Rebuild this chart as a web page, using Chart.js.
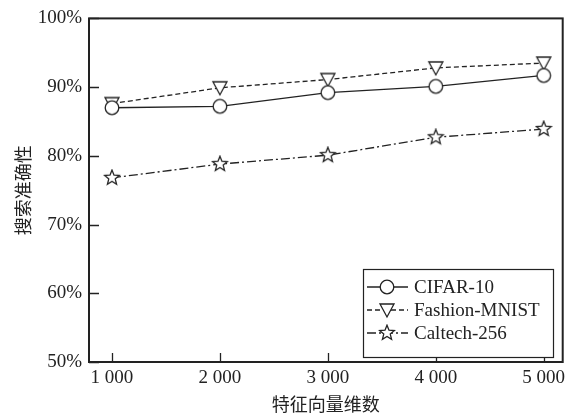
<!DOCTYPE html>
<html lang="zh">

<head>
  <meta charset="UTF-8">
  <title>搜索准确性 - 特征向量维数</title>
  <script src="https://cdn.jsdelivr.net/npm/chart.js"></script>
  <style>
    html, body { margin: 0; padding: 0; background: #fff; }
    #wrap { width: 571px; height: 417px; position: relative; }
  </style>
</head>

<body>
  <div id="wrap"><canvas id="acc-chart"></canvas></div>

  <script>
    // feature vector dimensions on the x axis
    const dims = [1000, 2000, 3000, 4000, 5000];
    const yTicks = [50, 60, 70, 80, 90, 100];

    // search accuracy (%) per dataset
    const cifar10 = [87.0, 87.2, 89.2, 90.1, 91.7];
    const fashionMnist = [87.6, 89.9, 91.1, 92.8, 93.5];
    const caltech256 = [76.8, 78.8, 80.1, 82.7, 83.9];

    const INK = '#222';
    const SERIF = '"Liberation Serif", "Times New Roman", serif';
    const CJK = '"Noto Sans CJK SC", sans-serif';

    // hollow marker images, shared by the points and the legend
    function makeMarker(draw) {
      const c = document.createElement('canvas');
      c.width = 18; c.height = 18;
      const g = c.getContext('2d');
      g.translate(9, 9);
      g.lineWidth = 1.3;
      g.strokeStyle = INK;
      g.fillStyle = '#fff';
      g.beginPath();
      draw(g);
      g.closePath();
      g.fill();
      g.stroke();
      return c;
    }
    const circleMark = makeMarker(g => g.arc(0, 0, 6.8, 0, Math.PI * 2));
    const triMark = makeMarker(g => {
      g.moveTo(-7, -6); g.lineTo(7, -6); g.lineTo(0, 7);
    });
    const starMark = makeMarker(g => {
      for (let i = 0; i < 10; i++) {
        const r = i % 2 === 0 ? 7.8 : 3.4;
        const a = -Math.PI / 2 + i * Math.PI / 5;
        const px = r * Math.cos(a), py = r * Math.sin(a);
        if (i === 0) g.moveTo(px, py); else g.lineTo(px, py);
      }
    });

    function toPoints(values) {
      return values.map((v, i) => ({ x: dims[i], y: v }));
    }

    function series(label, values, dash, marker) {
      return {
        label: label,
        data: toPoints(values),
        borderColor: INK,
        borderWidth: 1.3,
        borderDash: dash,
        pointStyle: marker,
        pointRadius: 7,
        pointHoverRadius: 7,
        fill: false,
        tension: 0
      };
    }

    // frame + inward ticks
    const framePlugin = {
      id: 'frame',
      afterDatasetsDraw(chart) {
        const { ctx, chartArea: a, scales } = chart;
        ctx.save();
        ctx.strokeStyle = INK;
        ctx.lineWidth = 1.3;
        ctx.beginPath();
        scales.x.ticks.forEach(t => {
          const px = Math.round(scales.x.getPixelForValue(t.value)) + 0.5;
          ctx.moveTo(px, a.bottom);
          ctx.lineTo(px, a.bottom - 9);
        });
        scales.y.ticks.forEach(t => {
          const py = Math.round(scales.y.getPixelForValue(t.value)) + 0.5;
          ctx.moveTo(a.left, py);
          ctx.lineTo(a.left + 10, py);
        });
        ctx.stroke();
        ctx.lineWidth = 2;
        ctx.strokeRect(a.left, a.top, a.right - a.left, a.bottom - a.top);
        ctx.restore();
      }
    };

    // boxed legend with line sample and marker per series
    const legendPlugin = {
      id: 'boxLegend',
      afterDraw(chart) {
        const { ctx } = chart;
        const boxX = 363, boxY = 269, boxW = 190, boxH = 88;
        ctx.save();
        ctx.fillStyle = '#fff';
        ctx.fillRect(boxX, boxY, boxW, boxH);
        ctx.strokeStyle = INK;
        ctx.lineWidth = 1.2;
        ctx.strokeRect(boxX + 0.5, boxY + 0.5, boxW, boxH);
        chart.data.datasets.forEach((ds, i) => {
          const cy = boxY + 18 + i * 23;
          ctx.strokeStyle = INK;
          ctx.lineWidth = 1.3;
          ctx.setLineDash(ds.borderDash || []);
          ctx.beginPath();
          ctx.moveTo(boxX + 4, cy);
          ctx.lineTo(boxX + 45, cy);
          ctx.stroke();
          ctx.setLineDash([]);
          const m = ds.pointStyle;
          ctx.drawImage(m, boxX + 24 - m.width / 2, cy - m.height / 2);
          ctx.fillStyle = INK;
          ctx.font = '19px ' + SERIF;
          ctx.textBaseline = 'middle';
          ctx.fillText(ds.label, boxX + 51, cy + 1);
        });
        ctx.restore();
      }
    };

    new Chart(document.getElementById('acc-chart'), {
      type: 'line',
      data: {
        datasets: [
          series('CIFAR-10', cifar10, [], circleMark),
          series('Fashion-MNIST', fashionMnist, [5, 3], triMark),
          series('Caltech-256', caltech256, [9, 3, 2, 3], starMark)
        ]
      },
      options: {
        responsive: true,
        maintainAspectRatio: false,
        animation: false,
        layout: { padding: { top: 17, right: 8, left: 0, bottom: 0 } },
        plugins: {
          legend: { display: false },
          tooltip: { enabled: false }
        },
        scales: {
          x: {
            type: 'linear',
            min: 787,
            max: 5176,
            afterBuildTicks: axis => { axis.ticks = dims.map(v => ({ value: v })); },
            afterFit: axis => { axis.height = 55; },
            grid: { display: false, drawTicks: false },
            border: { display: false },
            ticks: {
              color: INK,
              padding: 5,
              maxRotation: 0,
              font: { family: SERIF, size: 19 },
              callback: v => String(v).replace(/\B(?=(\d{3})+(?!\d))/g, ' ')
            },
            title: {
              display: true,
              text: '特征向量维数',
              color: INK,
              padding: { top: 0, bottom: 2 },
              font: { family: CJK, size: 18 }
            }
          },
          y: {
            min: 50,
            max: 100,
            afterBuildTicks: axis => { axis.ticks = yTicks.map(v => ({ value: v })); },
            afterFit: axis => { axis.width = 89; },
            grid: { display: false, drawTicks: false },
            border: { display: false },
            ticks: {
              color: INK,
              padding: 7,
              font: { family: SERIF, size: 19 },
              callback: v => v + '%'
            },
            title: {
              display: true,
              text: '搜索准确性',
              color: INK,
              padding: { top: 12, bottom: 0 },
              font: { family: CJK, size: 18 }
            }
          }
        }
      },
      plugins: [framePlugin, legendPlugin]
    });
  </script>
</body>

</html>
